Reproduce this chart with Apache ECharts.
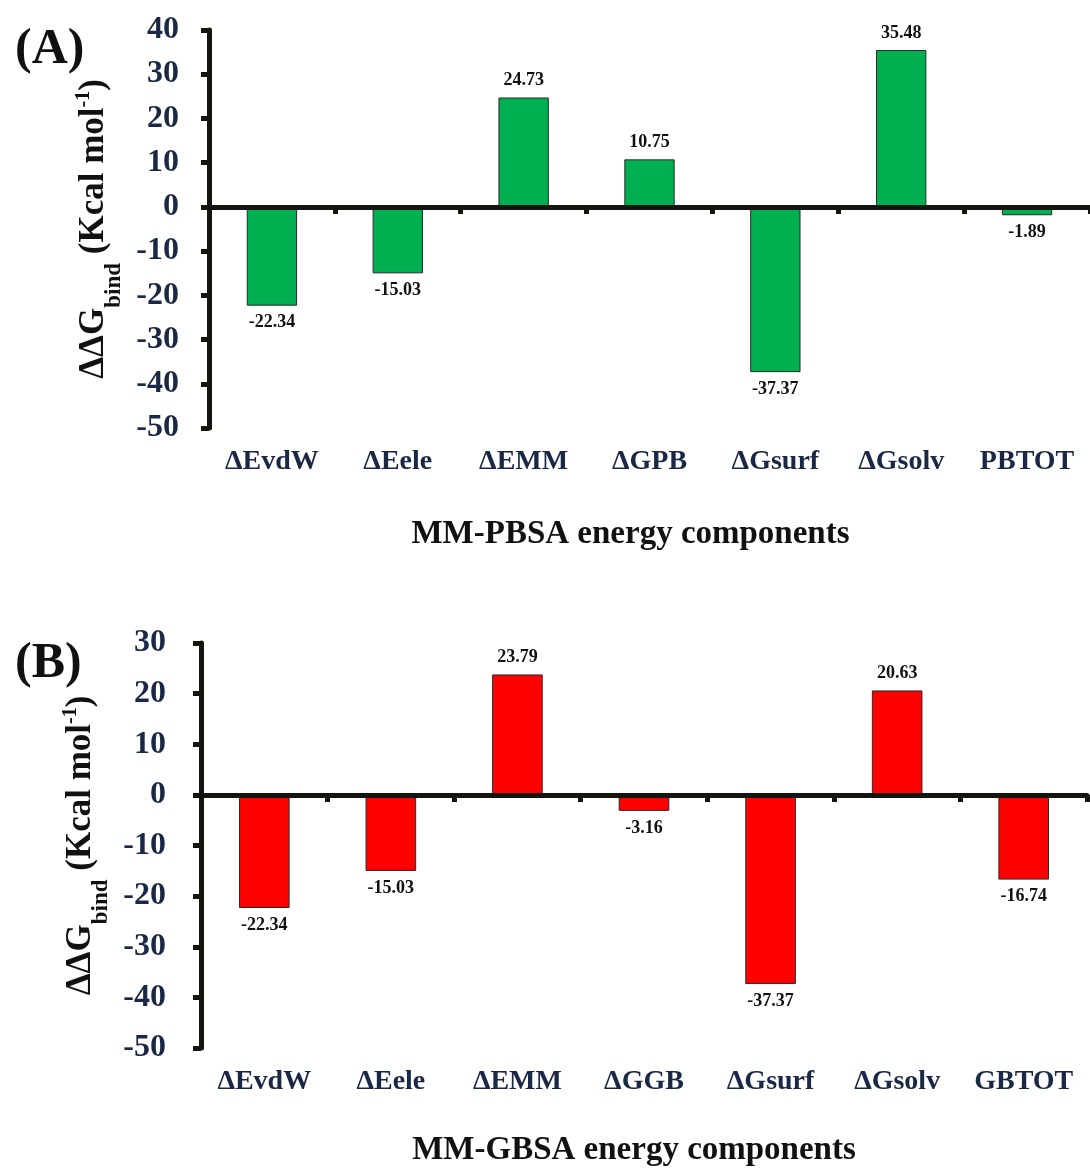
<!DOCTYPE html>
<html>
<head>
<meta charset="utf-8">
<script src="https://cdn.jsdelivr.net/npm/echarts@6/dist/echarts.min.js"></script>
<style>
html,body{margin:0;padding:0;background:#fff;}
#main{width:1090px;height:1169px;}
</style>
</head>
<body>
<div id="main"></div>
<script>
// ---- data ----
var categoriesPB = ['ΔEvdW', 'ΔEele', 'ΔEMM', 'ΔGPB', 'ΔGsurf', 'ΔGsolv', 'PBTOT'];
var valuesPB = [-22.34, -15.03, 24.73, 10.75, -37.37, 35.48, -1.89];
var categoriesGB = ['ΔEvdW', 'ΔEele', 'ΔEMM', 'ΔGGB', 'ΔGsurf', 'ΔGsolv', 'GBTOT'];
var valuesGB = [-22.34, -15.03, 23.79, -3.16, -37.37, 20.63, -16.74];
var yTicksA = {min: -50, max: 40, interval: 10};
var yTicksB = {min: -50, max: 30, interval: 10};
var titleA = 'MM-PBSA energy components';
var titleB = 'MM-GBSA energy components';

var FONT = '"Liberation Serif", "Times New Roman", serif';
var NAVY = '#1b2845';
var AXIS = '#151510';

function yName() {
  return '{a|ΔΔG}{sub|bind}{a| (Kcal mol}{sup|-1}{a|)}';
}
var yNameRich = {
  a: {fontFamily: FONT, fontWeight: 'bold', fontSize: 35, color: '#111', lineHeight: 42, verticalAlign: 'middle'},
  sub: {fontFamily: FONT, fontWeight: 'bold', fontSize: 23, color: '#111', lineHeight: 42, verticalAlign: 'bottom', padding: [0, 0, -10, 0]},
  sup: {fontFamily: FONT, fontWeight: 'bold', fontSize: 20, color: '#111', lineHeight: 42, verticalAlign: 'top'}
};

function barData(vals) {
  return vals.map(function (v) {
    return {value: v, label: {position: v >= 0 ? 'top' : 'bottom'}};
  });
}

var chart = echarts.init(document.getElementById('main'), null, {renderer: 'canvas'});

function zeroAxis(gi, cats) {
  return {
    type: 'category', gridIndex: gi, data: cats, position: 'bottom',
    axisLine: {onZero: true, lineStyle: {color: AXIS, width: 5}},
    axisTick: {show: true, length: 7, lineStyle: {color: AXIS, width: 5}},
    axisLabel: {show: false}, splitLine: {show: false}, z: 5
  };
}
function labelAxis(gi, cats, name, margin, gap, shift) {
  return {
    type: 'category', gridIndex: gi, data: cats, position: 'bottom',
    axisLine: {show: false, onZero: false}, axisTick: {show: false},
    axisLabel: {show: true, interval: 0, margin: margin, fontFamily: FONT, fontWeight: 'bold', fontSize: 28, color: NAVY},
    name: name, nameLocation: 'middle', nameGap: gap,
    nameTextStyle: {fontFamily: FONT, fontWeight: 'bold', fontSize: 33, color: '#111', padding: [0, shift, 0, 0]}
  };
}
function valAxis(gi, t, margin, gap) {
  return {
    type: 'value', gridIndex: gi, min: t.min, max: t.max, interval: t.interval,
    axisLine: {show: true, lineStyle: {color: AXIS, width: 5}},
    axisTick: {show: true, length: 8, lineStyle: {color: AXIS, width: 5}},
    axisLabel: {margin: margin, fontFamily: FONT, fontWeight: 'bold', fontSize: 32, color: NAVY},
    splitLine: {show: false},
    name: yName(), nameLocation: 'middle', nameRotate: 90, nameGap: gap,
    nameTextStyle: {rich: yNameRich}
  };
}
function barSeries(gi, vals, color) {
  return {
    type: 'bar', xAxisIndex: gi * 2, yAxisIndex: gi, data: barData(vals),
    barWidth: '40%',
    itemStyle: {color: color, borderColor: '#2a2a2a', borderWidth: 1},
    label: {show: true, distance: 8, fontFamily: FONT, fontWeight: 'bold', fontSize: 18, color: '#111',
      formatter: function (p) { return p.value.toFixed(2); }},
    z: 2
  };
}

chart.setOption({
  animation: false,
  backgroundColor: '#fff',
  title: [
    {text: '(A)', left: 10, top: 20, textStyle: {fontFamily: FONT, fontWeight: 'bold', fontSize: 50, color: '#111'}},
    {text: '(B)', left: 10, top: 634, textStyle: {fontFamily: FONT, fontWeight: 'bold', fontSize: 50, color: '#111'}}
  ],
  grid: [
    {left: 209, top: 30, width: 884, height: 398},
    {left: 201, top: 643, width: 886, height: 405}
  ],
  xAxis: [
    zeroAxis(0, categoriesPB),
    labelAxis(0, categoriesPB, titleA, 20, 90, 38),
    zeroAxis(1, categoriesGB),
    labelAxis(1, categoriesGB, titleB, 20, 86, 20)
  ],
  yAxis: [
    valAxis(0, yTicksA, 30, 82),
    valAxis(1, yTicksB, 35, 87)
  ],
  series: [
    barSeries(0, valuesPB, '#00b050'),
    barSeries(1, valuesGB, '#ff0000')
  ]
});
</script>
</body>
</html>
